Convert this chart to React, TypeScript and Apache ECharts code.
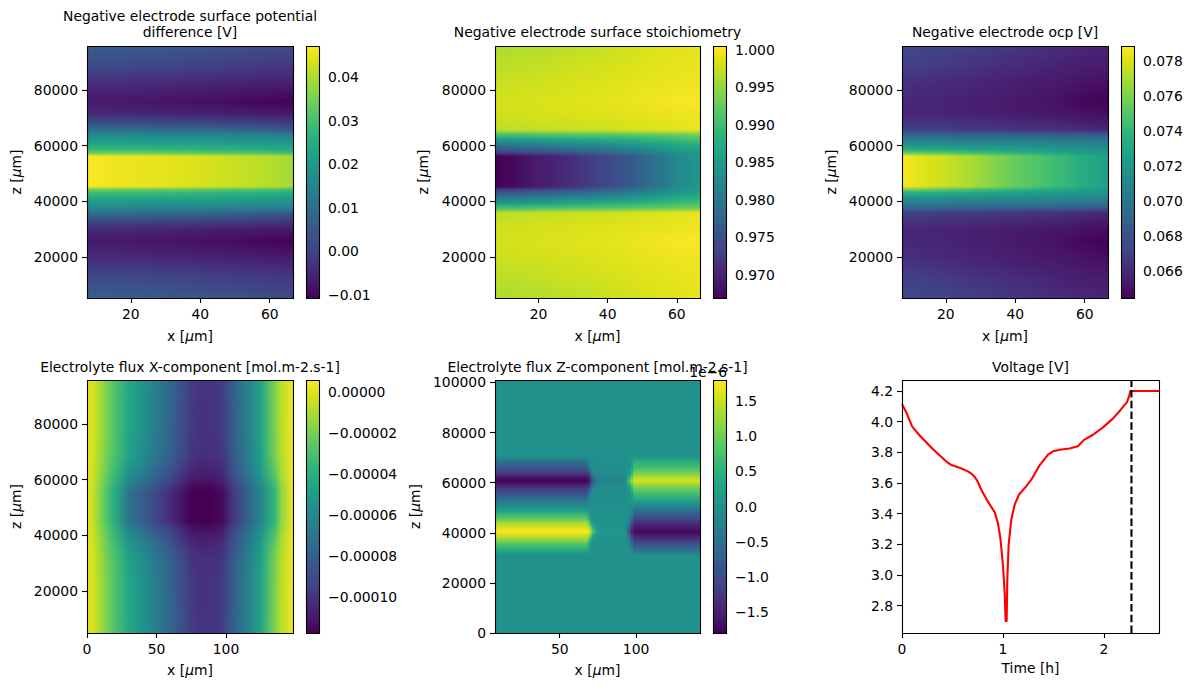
import React, { useEffect, useRef } from "react";
import * as echarts from "echarts";

const FONT = "DejaVu Sans";
const TICK_SIZE = 13.9;
const TITLE_SIZE = 13.9;

const viridis = ["#440154","#481a6c","#472d7b","#414487","#3b528b","#33638d","#2c728e","#26828e","#21918c","#1fa088","#28ae80","#3fbc73","#5ec962","#84d44b","#addc30","#d8e219","#fde725"];

// Top row of maps: values at z nodes (matrix rows, bottom to top) and x nodes (matrix columns)
const surfZNodes = [5270,13000,19000,25600,30000,35800,37600,39400,41200,43000,44200,45400,50750,56100,57300,58500,60300,62100,63900,65700,71500,75900,82500,88500,95800];
const surfXNodes = [7.4,13.9,20.5,27.1,33.7,40.3,46.9,53.5,60.1,66.7];

// Panel 1: potential difference in mV
const potentialMv = [
  [6.5,6.2,5.8,5.3,4.8,4.2,3.6,3,2.4,1.8],
  [1.5,1.3,1,0.6,0.2,-0.3,-0.7,-1.2,-1.6,-2],
  [-3.2,-3.4,-3.7,-4,-4.4,-4.8,-5.2,-5.6,-5.9,-6.2],
  [-7,-7.3,-7.6,-7.9,-8.2,-8.6,-9,-9.5,-10.1,-10.6],
  [-4,-4.3,-4.6,-5,-5.4,-5.8,-6.2,-6.6,-7,-7.3],
  [10,9.8,9.5,9.1,8.7,8.2,7.7,7,6,4.8],
  [15.9,15.7,15.5,15.3,15.1,14.8,14.6,14.3,14,13.6],
  [20,19.9,19.7,19.5,19.3,19.1,18.8,18.5,18.1,17.6],
  [24,23.9,23.7,23.5,23.3,23,22.7,22.3,21.8,21.1],
  [28.6,28.4,28.2,27.9,27.6,27.2,26.8,26.2,25.5,24.6],
  [34.4,34.2,33.9,33.5,33.1,32.6,32,31.4,30.5,29.4],
  [47.1,45.8,45.4,44.9,44.3,43.5,42.6,41.7,40.6,39],
  [47.1,45.8,45.4,44.9,44.3,43.5,42.6,41.7,40.6,39],
  [47.1,45.8,45.4,44.9,44.3,43.5,42.6,41.7,40.6,39],
  [34.4,34.2,33.9,33.5,33.1,32.6,32,31.4,30.5,29.4],
  [28.6,28.4,28.2,27.9,27.6,27.2,26.8,26.2,25.5,24.6],
  [24,23.9,23.7,23.5,23.3,23,22.7,22.3,21.8,21.1],
  [20,19.9,19.7,19.5,19.3,19.1,18.8,18.5,18.1,17.6],
  [15.9,15.7,15.5,15.3,15.1,14.8,14.6,14.3,14,13.6],
  [10,9.8,9.5,9.1,8.7,8.2,7.7,7,6,4.8],
  [-4,-4.3,-4.6,-5,-5.4,-5.8,-6.2,-6.6,-7,-7.3],
  [-7,-7.3,-7.6,-7.9,-8.2,-8.6,-9,-9.5,-10.1,-10.6],
  [-3.2,-3.4,-3.7,-4,-4.4,-4.8,-5.2,-5.6,-5.9,-6.2],
  [1.5,1.3,1,0.6,0.2,-0.3,-0.7,-1.2,-1.6,-2],
  [6.5,6.2,5.8,5.3,4.8,4.2,3.6,3,2.4,1.8],
];

// Panel 2: stoichiometry x 1000
const stoichMilli = [
  [996.4,996.5,996.7,997,997.3,997.7,998.1,998.6,998.9,999.2],
  [997,997.2,997.4,997.7,998,998.3,998.6,998.9,999.2,999.5],
  [997.7,997.8,998,998.2,998.5,998.7,999,999.3,999.5,999.7],
  [998.2,998.3,998.5,998.7,998.9,999.1,999.4,999.8,1000.2,1000.4],
  [998,998.1,998.3,998.5,998.6,998.8,999,999.3,999.5,999.8],
  [997.1,997.2,997.4,997.6,997.8,998,998.3,998.6,999,999.4],
  [990.4,990.4,990.8,991.1,991.4,991.4,991.8,992.1,992.8,993.1],
  [984.7,985,985.7,986.4,987,987.4,988,988.7,989.7,990.4],
  [980.3,980.7,981.4,982,982.7,983.4,984.4,985.7,987,988.1],
  [976,976.3,977,978,979,980,981.3,983,984.7,986],
  [972,972.6,973.6,975,976,977.3,979.3,981.3,983.4,985],
  [966.9,967.9,969.3,970.6,972.3,974,976.3,979.3,982.4,984.7],
  [966.9,967.9,969.3,970.6,972.3,974,976.3,979.3,982.4,984.7],
  [966.9,967.9,969.3,970.6,972.3,974,976.3,979.3,982.4,984.7],
  [972,972.6,973.6,975,976,977.3,979.3,981.3,983.4,985],
  [976,976.3,977,978,979,980,981.3,983,984.7,986],
  [980.3,980.7,981.4,982,982.7,983.4,984.4,985.7,987,988.1],
  [984.7,985,985.7,986.4,987,987.4,988,988.7,989.7,990.4],
  [990.4,990.4,990.8,991.1,991.4,991.4,991.8,992.1,992.8,993.1],
  [997.1,997.2,997.4,997.6,997.8,998,998.3,998.6,999,999.4],
  [998,998.1,998.3,998.5,998.6,998.8,999,999.3,999.5,999.8],
  [998.2,998.3,998.5,998.7,998.9,999.1,999.4,999.8,1000.2,1000.4],
  [997.7,997.8,998,998.2,998.5,998.7,999,999.3,999.5,999.7],
  [997,997.2,997.4,997.7,998,998.3,998.6,998.9,999.2,999.5],
  [996.4,996.5,996.7,997,997.3,997.7,998.1,998.6,998.9,999.2],
];

// Panel 3: ocp in mV
const ocpMv = [
  [67.4,67.3,67.2,67,66.8,66.6,66.4,66.2,66,65.9],
  [67,66.9,66.7,66.5,66.3,66.1,65.9,65.7,65.5,65.4],
  [66.4,66.3,66.1,66,65.8,65.6,65.4,65.3,65.1,65],
  [66,65.9,65.8,65.6,65.5,65.3,65.2,65,64.7,64.5],
  [66,65.9,65.8,65.7,65.6,65.4,65.3,65.2,65,64.9],
  [67,67,66.9,66.8,66.7,66.6,66.5,66.4,66.2,66],
  [69.1,69.1,69,68.95,68.9,68.8,68.7,68.6,68.5,68.35],
  [70.4,70.4,70.4,70.35,70.3,70.3,70.2,70.1,70,69.9],
  [71.7,71.7,71.6,71.6,71.5,71.4,71.3,71.2,71.1,70.9],
  [73.5,73.4,73.2,73,72.8,72.6,72.4,72.1,71.9,71.7],
  [75.7,75.4,75,74.6,74.2,73.8,73.4,72.9,72.4,72],
  [78.8,78.1,77.6,77,76.2,75.4,74.8,74.1,73.3,72.5],
  [78.8,78.1,77.6,77,76.2,75.4,74.8,74.1,73.3,72.5],
  [78.8,78.1,77.6,77,76.2,75.4,74.8,74.1,73.3,72.5],
  [75.7,75.4,75,74.6,74.2,73.8,73.4,72.9,72.4,72],
  [73.5,73.4,73.2,73,72.8,72.6,72.4,72.1,71.9,71.7],
  [71.7,71.7,71.6,71.6,71.5,71.4,71.3,71.2,71.1,70.9],
  [70.4,70.4,70.4,70.35,70.3,70.3,70.2,70.1,70,69.9],
  [69.1,69.1,69,68.95,68.9,68.8,68.7,68.6,68.5,68.35],
  [67,67,66.9,66.8,66.7,66.6,66.5,66.4,66.2,66],
  [66,65.9,65.8,65.7,65.6,65.4,65.3,65.2,65,64.9],
  [66,65.9,65.8,65.6,65.5,65.3,65.2,65,64.7,64.5],
  [66.4,66.3,66.1,66,65.8,65.6,65.4,65.3,65.1,65],
  [67,66.9,66.7,66.5,66.3,66.1,65.9,65.7,65.5,65.4],
  [67.4,67.3,67.2,67,66.8,66.6,66.4,66.2,66,65.9],
];

// Panel 4: flux X in units of 1e-5 (rows at z lines, values along x nodes)
const fluxXNodes = [0,5,10,15,20,30,40,50,60,70,75,80,85,90,97,105,115,125,135,140,148.2];
const fluxXLines = [4910,24000,32000,35500,38200,40500,42200,43600,44700,45300,55900,56500,57600,59000,60700,63000,65700,69200,77200,95800];
const fluxXLineRows = [0,1,2,3,4,5,6,7,8,9,9,10,11,12,13,14,15,16,17,18];
const fluxX = [
  [0.2,-0.3,-1.2,-2.1,-2.9,-4.4,-5.5,-6.6,-7.7,-9.1,-9.7,-9.9,-10,-9.9,-9.7,-8.1,-6.5,-4.6,-1.9,-0.7,0.3],
  [0.2,-0.3,-1.2,-2.1,-2.9,-4.5,-5.6,-6.7,-7.8,-9.2,-9.8,-10,-10.1,-10,-9.8,-8.2,-6.6,-4.7,-2,-0.7,0.3],
  [0.2,-0.4,-1.3,-2.2,-3,-4.7,-5.8,-6.9,-8,-9.4,-10,-10.1,-10.2,-10.1,-10,-8.3,-6.7,-4.8,-2.1,-0.8,0.3],
  [0.2,-0.4,-1.4,-2.4,-3.2,-5.1,-6.2,-7.3,-8.4,-9.7,-10.2,-10.4,-10.5,-10.4,-10.2,-8.6,-6.9,-5,-2.4,-0.9,0.3],
  [0.2,-0.5,-1.5,-2.5,-3.4,-5.5,-6.5,-7.7,-8.7,-10,-10.5,-10.7,-10.7,-10.7,-10.4,-8.8,-7.1,-5.2,-2.6,-1,0.3],
  [0.2,-0.5,-1.6,-2.7,-3.6,-5.9,-6.9,-8.1,-9.1,-10.3,-10.9,-11,-11,-11,-10.7,-9.1,-7.4,-5.5,-2.9,-1.1,0.3],
  [0.2,-0.6,-1.7,-2.8,-3.7,-6.3,-7.3,-8.5,-9.5,-10.6,-11.2,-11.3,-11.3,-11.3,-11,-9.4,-7.6,-5.7,-3.2,-1.3,0.3],
  [0.2,-0.6,-1.8,-2.9,-3.9,-6.6,-7.6,-8.8,-9.8,-10.9,-11.4,-11.5,-11.5,-11.5,-11.2,-9.6,-7.8,-5.9,-3.4,-1.4,0.3],
  [0.2,-0.7,-1.9,-3,-4,-6.9,-7.9,-9.1,-10.1,-11.1,-11.6,-11.7,-11.7,-11.7,-11.4,-9.8,-8,-6.1,-3.6,-1.5,0.3],
  [0.2,-0.7,-1.9,-3.1,-4.1,-7.1,-8.1,-9.3,-10.3,-11.3,-11.8,-11.8,-11.8,-11.8,-11.5,-9.9,-8.1,-6.2,-3.7,-1.5,0.3],
  [0.2,-0.7,-1.9,-3,-4,-6.9,-7.9,-9.1,-10.1,-11.1,-11.6,-11.7,-11.7,-11.7,-11.4,-9.8,-8,-6.1,-3.6,-1.5,0.3],
  [0.2,-0.6,-1.8,-2.9,-3.9,-6.6,-7.6,-8.8,-9.8,-10.9,-11.4,-11.5,-11.5,-11.5,-11.2,-9.6,-7.8,-5.9,-3.4,-1.4,0.3],
  [0.2,-0.6,-1.7,-2.8,-3.7,-6.3,-7.3,-8.5,-9.5,-10.6,-11.2,-11.3,-11.3,-11.3,-11,-9.4,-7.6,-5.7,-3.2,-1.3,0.3],
  [0.2,-0.5,-1.6,-2.7,-3.6,-5.9,-6.9,-8.1,-9.1,-10.3,-10.9,-11,-11,-11,-10.7,-9.1,-7.4,-5.5,-2.9,-1.1,0.3],
  [0.2,-0.5,-1.5,-2.5,-3.4,-5.5,-6.5,-7.7,-8.7,-10,-10.5,-10.7,-10.7,-10.7,-10.4,-8.8,-7.1,-5.2,-2.6,-1,0.3],
  [0.2,-0.4,-1.4,-2.4,-3.2,-5.1,-6.2,-7.3,-8.4,-9.7,-10.2,-10.4,-10.5,-10.4,-10.2,-8.6,-6.9,-5,-2.4,-0.9,0.3],
  [0.2,-0.4,-1.3,-2.2,-3,-4.7,-5.8,-6.9,-8,-9.4,-10,-10.1,-10.2,-10.1,-10,-8.3,-6.7,-4.8,-2.1,-0.8,0.3],
  [0.2,-0.3,-1.2,-2.1,-2.9,-4.5,-5.6,-6.7,-7.8,-9.2,-9.8,-10,-10.1,-10,-9.8,-8.2,-6.6,-4.7,-2,-0.7,0.3],
  [0.2,-0.3,-1.2,-2.1,-2.9,-4.4,-5.5,-6.6,-7.7,-9.1,-9.7,-9.9,-10,-9.9,-9.7,-8.1,-6.5,-4.6,-1.9,-0.7,0.3],
];

// Panel 5: flux Z in units of 1e-6 (rows at z nodes, columns at x lines)
const fluxZXLines = [7.6,67.7,69,70.5,72,73.8,76,92,93.4,95,96.8,98.7,141.9];
const fluxZLineColumns = [0,0,1,2,3,4,5,5,6,7,8,9,9];
const fluxZNodes = [0,31000,32180,35500,37500,39100,40560,42160,43750,45480,48810,50670,52530,55860,57590,59180,60780,62240,63840,65840,69160,70340,100960];
const fluxZ = [
  [0,0,0,0,0,0,0,0,0,0],
  [0,0,0,0,0,0,0,0,0,0],
  [0.2,0.03,0,0,0,0,0,-0.02,-0.05,-0.29],
  [0.79,0.35,0.1,0.02,0,0,0,-0.05,-0.35,-0.9],
  [1.26,0.9,0.45,0.12,0.05,0.02,0,-0.15,-0.75,-1.3],
  [1.55,1.35,0.95,0.4,0.15,0.06,-0.03,-0.35,-1.15,-1.58],
  [1.8,1.65,1.3,0.85,0.4,0.1,-0.15,-0.7,-1.35,-1.73],
  [1.55,1.35,0.95,0.4,0.15,0.06,-0.03,-0.35,-1.15,-1.55],
  [1.33,0.95,0.45,0.12,0.05,0.02,0,-0.15,-0.8,-1.37],
  [0.9,0.45,0.12,0.02,0,0,0,-0.05,-0.4,-1.08],
  [0.22,0.05,0,0,0,0,0,-0.02,-0.1,-0.5],
  [-0.07,0,0,0,0,0,0,0,0,-0.14],
  [-0.36,-0.07,0,-0.03,-0.03,-0.02,0,0,0.03,0.18],
  [-0.9,-0.4,-0.1,-0.06,-0.05,-0.04,0,0.02,0.12,0.72],
  [-1.19,-0.9,-0.45,-0.2,-0.1,-0.08,0,0.1,0.4,0.97],
  [-1.55,-1.35,-0.95,-0.45,-0.2,-0.14,0.02,0.25,0.8,1.26],
  [-1.8,-1.65,-1.3,-0.85,-0.35,-0.2,0.15,0.6,1.15,1.55],
  [-1.58,-1.4,-1,-0.45,-0.2,-0.14,0.02,0.25,0.8,1.33],
  [-1.22,-0.95,-0.5,-0.2,-0.1,-0.08,0,0.1,0.4,1.04],
  [-0.83,-0.4,-0.1,-0.06,-0.05,-0.04,0,0.02,0.15,0.72],
  [-0.36,-0.07,0,-0.03,-0.03,-0.02,0,0,0.05,0.36],
  [0,0,0,0,0,0,0,0,0,0],
  [0,0,0,0,0,0,0,0,0,0],
];

// Panel 6: voltage
const voltageTime = [0,0.02,0.05,0.1,0.175,0.307,0.44,0.49,0.57,0.654,0.69,0.72,0.75,0.786,0.85,0.918,0.95,0.975,1,1.017,1.027,1.037,1.044,1.057,1.083,1.117,1.16,1.232,1.28,1.358,1.447,1.497,1.563,1.66,1.744,1.8,1.893,1.992,2.09,2.17,2.23,2.25,2.263,2.29,2.547];
const voltageValues = [4.115,4.09,4.05,3.97,3.91,3.82,3.74,3.717,3.7,3.676,3.66,3.64,3.61,3.556,3.48,3.41,3.34,3.24,3.07,2.89,2.7,2.7,2.98,3.2,3.36,3.46,3.525,3.58,3.62,3.71,3.785,3.807,3.817,3.825,3.84,3.88,3.915,3.963,4.02,4.08,4.128,4.165,4.2,4.2,4.2];
const cutTime = [2.274,2.274];
const cutVolt = [2.622,4.272];

const titles = [
  "Negative electrode surface potential\ndifference [V]",
  "Negative electrode surface stoichiometry",
  "Negative electrode ocp [V]",
  "Electrolyte flux X-component [mol.m-2.s-1]",
  "Electrolyte flux Z-component [mol.m-2.s-1]",
  "Voltage [V]",
];

const zTicks = [20000,40000,60000,80000];
const zTicksWide = [0,20000,40000,60000,80000,100000];
const surfXTicks = [20,40,60];

type Strip = { mode: "columns" | "rows"; lines: number[]; lineMap?: number[]; nodes: number[]; matrix: number[][]; lo: number; hi: number };
type Panel = {
  left: number; top: number; width: number; height: number;
  xRange: number[]; zRange: number[]; xTicks: number[]; zTicks: number[]; nameGap: number;
  strip: Strip;
  cb: { left: number; width: number; lo: number; hi: number; ticks: number[]; digits: number };
};

const T1 = 46, T2 = 380, H1 = 252, H2 = 253;
const panels: Panel[] = [
  { left: 87, top: T1, width: 206, height: H1, xRange: [7.4,66.7], zRange: [5270,95800], xTicks: surfXTicks, zTicks, nameGap: 64,
    strip: { mode: "columns", lines: surfXNodes, nodes: surfZNodes, matrix: potentialMv, lo: -10.7, hi: 47.1 },
    cb: { left: 306, width: 13, lo: -0.0107, hi: 0.0471, ticks: [-0.01,0,0.01,0.02,0.03,0.04], digits: 2 } },
  { left: 495, top: T1, width: 205, height: H1, xRange: [7.4,66.7], zRange: [5270,95800], xTicks: surfXTicks, zTicks, nameGap: 65,
    strip: { mode: "columns", lines: surfXNodes, nodes: surfZNodes, matrix: stoichMilli, lo: 966.9, hi: 1000.5 },
    cb: { left: 713, width: 13, lo: 0.9669, hi: 1.0005, ticks: [0.97,0.975,0.98,0.985,0.99,0.995,1], digits: 3 } },
  { left: 902, top: T1, width: 206, height: H1, xRange: [7.4,66.7], zRange: [5270,95800], xTicks: surfXTicks, zTicks, nameGap: 64,
    strip: { mode: "columns", lines: surfXNodes, nodes: surfZNodes, matrix: ocpMv, lo: 64.46, hi: 78.86 },
    cb: { left: 1121, width: 13, lo: 0.06446, hi: 0.07886, ticks: [0.066,0.068,0.07,0.072,0.074,0.076,0.078], digits: 3 } },
  { left: 87, top: T2, width: 206, height: H2, xRange: [0,148.2], zRange: [4910,95800], xTicks: [0,50,100], zTicks, nameGap: 64,
    strip: { mode: "rows", lines: fluxXLines, lineMap: fluxXLineRows, nodes: fluxXNodes, matrix: fluxX, lo: -11.76, hi: 0.57 },
    cb: { left: 306, width: 13, lo: -0.0001176, hi: 0.0000057, ticks: [-0.0001,-0.00008,-0.00006,-0.00004,-0.00002,0], digits: 5 } },
  { left: 495, top: T2, width: 205, height: H2, xRange: [7.6,141.9], zRange: [0,100960], xTicks: [50,100], zTicks: zTicksWide, nameGap: 73,
    strip: { mode: "columns", lines: fluxZXLines, lineMap: fluxZLineColumns, nodes: fluxZNodes, matrix: fluxZ, lo: -1.798, hi: 1.798 },
    cb: { left: 713, width: 13, lo: -1.798, hi: 1.798, ticks: [-1.5,-1,-0.5,0,0.5,1,1.5], digits: 1 } },
];

const voltagePanel = { left: 902, top: T2, width: 257, height: H2, xRange: [0,2.547], yRange: [2.622,4.272], xTicks: [0,1,2], yTicks: [2.8,3,3.2,3.4,3.6,3.8,4,4.2] };

function mapColor(t: number): string {
  const c = Math.max(0, Math.min(1, t)) * (viridis.length - 1);
  const i = Math.min(viridis.length - 2, Math.floor(c));
  const f = c - i;
  const p = (s: string, k: number) => parseInt(s.substr(1 + k * 2, 2), 16);
  const m = [0, 1, 2].map((k) => Math.round(p(viridis[i], k) * (1 - f) + p(viridis[i + 1], k) * f));
  return `rgb(${m[0]},${m[1]},${m[2]})`;
}

// Colour stops of one thin slice, shaded between neighbouring data lines k and k+1 (weight f), like Gouraud shading.
function sliceStops(s: Strip, k: number, f: number) {
  const first = s.nodes[0];
  const last = s.nodes[s.nodes.length - 1];
  const span = last - first;
  const la = s.lineMap ? s.lineMap[k] : k;
  const lb = s.lineMap ? s.lineMap[k + 1] : k + 1;
  const at = (n: number) => {
    const a = s.mode === "columns" ? s.matrix[n][la] : s.matrix[la][n];
    const b = s.mode === "columns" ? s.matrix[n][lb] : s.matrix[lb][n];
    return mapColor((a * (1 - f) + b * f - s.lo) / (s.hi - s.lo));
  };
  const stops = s.nodes.map((v, n) => ({
    offset: s.mode === "columns" ? (last - v) / span : (v - first) / span,
    color: at(n),
  }));
  return s.mode === "columns" ? stops.reverse() : stops;
}

const tickBase = {
  axisLine: { show: false },
  splitLine: { show: false },
  axisLabel: { fontFamily: FONT, fontSize: TICK_SIZE, color: "#000", margin: 9 },
  axisTick: { length: 5, lineStyle: { color: "#000", width: 1.1 } },
};
const nameText = { fontFamily: FONT, fontSize: TICK_SIZE, color: "#000", rich: { m: { fontFamily: FONT, fontStyle: "italic", fontSize: TICK_SIZE, color: "#000" } } };

function valueAxis(range: number[], ticks: number[], extra: any, fmt?: (v: number) => string) {
  return {
    type: "value", min: range[0], max: range[1], ...tickBase, ...extra,
    axisLabel: { ...tickBase.axisLabel, customValues: ticks, ...(fmt ? { formatter: fmt } : {}) },
    axisTick: { ...tickBase.axisTick, customValues: ticks },
  };
}

function buildOption() {
  const grid: any[] = [], xAxis: any[] = [], yAxis: any[] = [], series: any[] = [], title: any[] = [], frames: any[] = [];
  const plain = (v: number) => String(v);
  const addFrame = (l: number, t: number, w: number, h: number) =>
    frames.push({ type: "rect", shape: { x: l + 0.5, y: t + 0.5, width: w, height: h }, style: { fill: "none", stroke: "#000", lineWidth: 1.1 }, z: 100 });

  panels.forEach((p, i) => {
    const g = grid.length;
    grid.push({ left: p.left, top: p.top, width: p.width, height: p.height });
    xAxis.push(valueAxis(p.xRange, p.xTicks, { gridIndex: g, name: "x [{m|\u03bc}m]", nameLocation: "middle", nameGap: i < 3 ? 31 : 30, nameTextStyle: nameText }, plain));
    yAxis.push(valueAxis(p.zRange, p.zTicks, { gridIndex: g, name: "z [{m|\u03bc}m]", nameLocation: "middle", nameGap: p.nameGap, nameTextStyle: nameText }, plain));
    const s = p.strip;
    series.push({
      type: "custom", xAxisIndex: g, yAxisIndex: g, silent: true,
      data: s.lines.slice(1).map((e, k) => [s.lines[k], e]),
      renderItem: (params: any, api: any) => {
        const k = params.dataIndex;
        const columns = s.mode === "columns";
        const a = columns ? api.coord([s.lines[k], p.zRange[1]]) : api.coord([p.xRange[0], s.lines[k + 1]]);
        const b = columns ? api.coord([s.lines[k + 1], p.zRange[0]]) : api.coord([p.xRange[1], s.lines[k]]);
        const start = columns ? a[0] : a[1];
        const along = columns ? b[0] - a[0] : b[1] - a[1];
        const count = Math.max(1, Math.ceil(along / 2));
        const step = along / count;
        const children: any[] = [];
        for (let j = 0; j < count; j++) {
          const f = (j + 0.5) / count;
          const p0 = Math.round(start + j * step);
          const p1 = Math.round(start + (j + 1) * step);
          if (p1 <= p0) continue;
          const isEnd = columns ? (k === s.lines.length - 2 && j === count - 1) : (k === 0 && j === count - 1);
          const len = p1 - p0 + (isEnd ? 0 : 1);
          if (columns) {
            children.push({ type: "rect", shape: { x: p0, y: a[1], width: len, height: b[1] - a[1] },
              style: { fill: new echarts.graphic.LinearGradient(0, 0, 0, 1, sliceStops(s, k, f)) } });
          } else {
            children.push({ type: "rect", shape: { x: a[0], y: p0, width: b[0] - a[0], height: len },
              style: { fill: new echarts.graphic.LinearGradient(0, 0, 1, 0, sliceStops(s, k, 1 - f)) } });
          }
        }
        return { type: "group", children };
      },
    });
    addFrame(p.left, p.top, p.width, p.height);

    const cb = p.cb;
    const cg = grid.length;
    grid.push({ left: cb.left, top: p.top, width: cb.width, height: p.height });
    xAxis.push({ type: "value", gridIndex: cg, min: 0, max: 1, show: false });
    yAxis.push(valueAxis([cb.lo, cb.hi], cb.ticks, { gridIndex: cg, position: "right" },
      (v: number) => v.toFixed(cb.digits).replace("-", "\u2212")));
    series.push({
      type: "custom", xAxisIndex: cg, yAxisIndex: cg, silent: true, data: [[0, 1]],
      renderItem: (_: any, api: any) => {
        const a = api.coord([0, cb.hi]);
        const b = api.coord([1, cb.lo]);
        const stops = viridis.map((c, n) => ({ offset: 1 - n / (viridis.length - 1), color: c })).reverse();
        return { type: "rect", shape: { x: a[0], y: a[1], width: b[0] - a[0], height: b[1] - a[1] }, style: { fill: new echarts.graphic.LinearGradient(0, 0, 0, 1, stops) } };
      },
    });
    addFrame(cb.left, p.top, cb.width, p.height);

    title.push({
      text: titles[i], left: p.left + p.width / 2, textAlign: "center", padding: 0,
      top: i === 0 ? 8 : i < 3 ? 24 : 359,
      textStyle: { fontFamily: FONT, fontSize: TITLE_SIZE, fontWeight: "normal", color: "#000", lineHeight: 16 },
    });
  });

  const v = voltagePanel;
  const vg = grid.length;
  grid.push({ left: v.left, top: v.top, width: v.width, height: v.height });
  xAxis.push(valueAxis(v.xRange, v.xTicks, { gridIndex: vg, name: "Time [h]", nameLocation: "middle", nameGap: 28, nameTextStyle: nameText }, plain));
  yAxis.push(valueAxis(v.yRange, v.yTicks, { gridIndex: vg }, (n: number) => n.toFixed(1)));
  series.push({
    type: "line", xAxisIndex: vg, yAxisIndex: vg, showSymbol: false, silent: true, smooth: false,
    data: voltageTime.map((t, i) => [t, voltageValues[i]]),
    lineStyle: { color: "#ff0000", width: 2.1, join: "round" },
  });
  series.push({
    type: "line", xAxisIndex: vg, yAxisIndex: vg, showSymbol: false, silent: true,
    data: cutTime.map((t, i) => [t, cutVolt[i]]),
    lineStyle: { color: "#000", width: 2.1, type: [7.5, 3.2] },
  });
  addFrame(v.left, v.top, v.width, v.height);
  title.push({
    text: titles[5], left: v.left + v.width / 2, textAlign: "center", top: 359, padding: 0,
    textStyle: { fontFamily: FONT, fontSize: TITLE_SIZE, fontWeight: "normal", color: "#000", lineHeight: 16 },
  });

  frames.push({
    type: "text", x: 727, y: 372, z: 101,
    style: { text: "1e\u22126", fontFamily: FONT, fontSize: TICK_SIZE, fill: "#000", textAlign: "right", textVerticalAlign: "middle" },
  });

  return { animation: false, backgroundColor: "#fff", grid, xAxis, yAxis, series, title, graphic: { elements: frames } };
}

export default function App() {
  const ref = useRef<HTMLDivElement>(null);
  useEffect(() => {
    document.body.style.margin = "0";
    const chart = echarts.init(ref.current!, undefined, { renderer: "svg" });
    chart.setOption(buildOption() as any);
    return () => chart.dispose();
  }, []);
  return <div ref={ref} style={{ width: 1192, height: 690 }} />;
}
